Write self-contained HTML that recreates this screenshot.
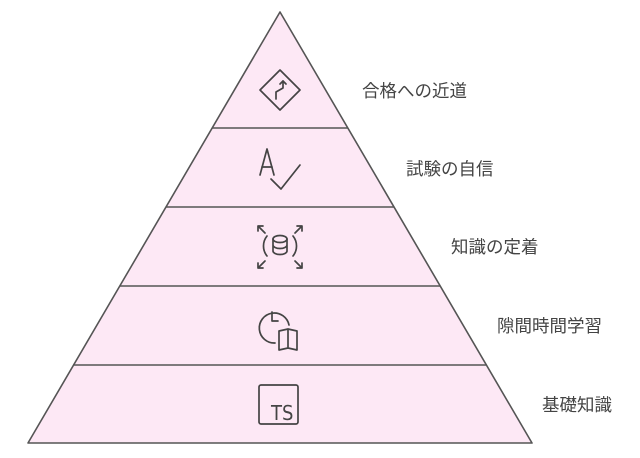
<!DOCTYPE html>
<html><head><meta charset="utf-8"><style>
html,body{margin:0;padding:0;background:#fff;}
svg{display:block}
text{font-family:"Liberation Sans","Noto Sans CJK JP",sans-serif;font-size:17.5px;fill:#444;}
</style></head><body>
<svg width="640" height="458" viewBox="0 0 640 458" xmlns="http://www.w3.org/2000/svg">
<polygon points="280,12 532,443 28,443" fill="#fde8f5" stroke="#555" stroke-width="1.6" stroke-linejoin="round"/>
<g stroke="#555" stroke-width="1.6">
<line x1="212" y1="128" x2="348" y2="128"/>
<line x1="166" y1="207" x2="394" y2="207"/>
<line x1="120" y1="286" x2="440" y2="286"/>
<line x1="73" y1="365" x2="487" y2="365"/>
</g>
<g fill="none" stroke="#444" stroke-width="1.7" stroke-linecap="round" stroke-linejoin="round">
<polygon points="280,70 300,90 280,110 260,90"/>
<polyline points="276,99 276,92 283,88 283,81"/>
<polyline points="280,84 283,81 286,84"/>
<polyline points="260,175 267,149 274,175"/>
<line x1="262" y1="167" x2="272" y2="167"/>
<polyline points="271,179 281,189 300,165"/>
<ellipse cx="280" cy="239" rx="7" ry="3.5"/>
<path d="M273,239 v12 a7,3.5 0 0 0 14,0 v-12 M273,245 a7,3.5 0 0 0 14,0"/>
<path d="M267,236 a16,16 0 0 0 0,20 M293,236 a16,16 0 0 1 0,20"/>
<path d="M258,226 l7,7 M258,226 h5 M258,226 v5"/>
<path d="M302,226 l-7,7 M302,226 h-5 M302,226 v5"/>
<path d="M258,268 l7,-7 M258,268 h5 M258,268 v-5"/>
<path d="M302,268 l-7,-7 M302,268 h-5 M302,268 v-5"/>
<path d="M275,343 a15,15 0 1 1 14,-18"/>
<polyline points="272,312 272,321 278,321"/>
<path d="M279,331 l9,-2 l0,19 l-9,2 z M288,329 l9,2 l0,19 l-9,-2"/>
<rect x="259" y="385" width="39" height="39" rx="2"/>
</g>
<text x="271" y="420" style="font-size:20px;font-family:'DejaVu Sans Condensed','Liberation Sans Narrow',sans-serif;font-weight:300">TS</text>
<text x="362" y="97">合格への近道</text>
<text x="406" y="175">試験の自信</text>
<text x="451" y="253">知識の定着</text>
<text x="497" y="332">隙間時間学習</text>
<text x="542" y="411">基礎知識</text>
</svg>
</body></html>
